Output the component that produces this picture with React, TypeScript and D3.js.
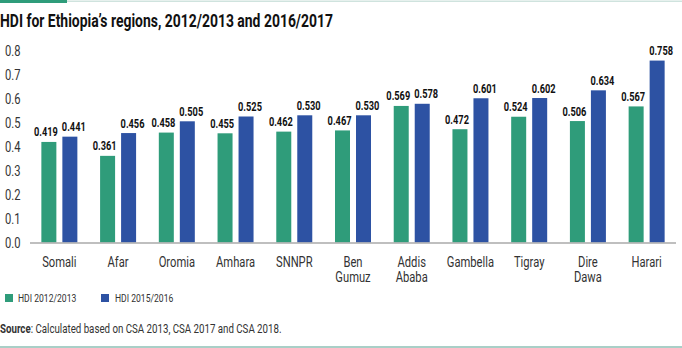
import React from "react";
import * as d3 from "d3";

const categories: string[][] = [
  ["Somali"], ["Afar"], ["Oromia"], ["Amhara"], ["SNNPR"], ["Ben", "Gumuz"],
  ["Addis", "Ababa"], ["Gambella"], ["Tigray"], ["Dire", "Dawa"], ["Harari"],
];
const hdi2013 = [0.419, 0.361, 0.458, 0.455, 0.462, 0.467, 0.569, 0.472, 0.524, 0.506, 0.567];
const hdi2016 = [0.441, 0.456, 0.505, 0.525, 0.530, 0.530, 0.578, 0.601, 0.602, 0.634, 0.758];
const seriesNames = ["HDI 2012/2013", "HDI 2015/2016"];
const yTicks = [0, 0.1, 0.2, 0.3, 0.4, 0.5, 0.6, 0.7, 0.8];

const GREEN = "#2f9c7a";
const BLUE = "#2d52a3";
const FONT = "Roboto, 'Liberation Sans', sans-serif";

function T(props: { x: number; y: number; size: number; sx?: number; anchor?: string; weight?: string; fill?: string; dy?: string; children: React.ReactNode }) {
  const { x, y, size, sx = 0.8, anchor = "start", weight = "normal", fill = "#333", dy, children } = props;
  return (
    <text transform={`translate(${x},${y}) scale(${sx},1)`} textAnchor={anchor} fontSize={size} fontWeight={weight} fill={fill} dy={dy}>
      {children}
    </text>
  );
}

export default function App() {
  const W = 682, H = 348;
  const x = d3.scaleBand<number>().domain(d3.range(categories.length)).range([30, 676]).paddingInner(0).paddingOuter(0);
  const y = d3.scaleLinear().domain([0, 0.8]).range([242.5, 50.5]);
  const barW = 15, gap = 6;
  const series = [hdi2013, hdi2016];
  const colors = [GREEN, BLUE];
  return (
    <svg width={W} height={H} style={{ position: "absolute", left: 0, top: 0, fontFamily: FONT }}>
      <rect x={0} y={0} width={W} height={H} fill="#fff" />
      <rect x={0} y={0.5} width={W} height={1.5} fill="#cfe3de" />
      <rect x={0} y={0} width={67} height={3} fill={GREEN} />
      <text x={0} y={26.5} fontSize={17.5} fontWeight="bold" fill="#111" textLength={333} lengthAdjust="spacingAndGlyphs">HDI for Ethiopia’s regions, 2012/2013 and 2016/2017</text>
      {yTicks.map((t) => (
        <T key={t} x={5} y={y(t)} dy="0.36em" size={14}>{t.toFixed(1)}</T>
      ))}
      {categories.map((c, i) => {
        const cx = (x(i) as number) + x.bandwidth() / 2;
        return (
          <g key={i}>
            {series.map((s, k) => {
              const bx = k === 0 ? cx - gap / 2 - barW : cx + gap / 2;
              const lx = k === 0 ? bx + barW + 1.5 : bx - 0.5;
              return (
                <g key={k}>
                  <rect x={bx} y={y(s[i])} width={barW} height={y(0) - y(s[i])} fill={colors[k]} />
                  <T x={lx} y={y(s[i]) - 5.5} anchor={k === 0 ? "end" : "start"} size={12.5} sx={0.74} weight="bold" fill="#111">{s[i].toFixed(3)}</T>
                </g>
              );
            })}
            {c.map((line, j) => (
              <T key={j} x={cx} y={267 + j * 15} anchor="middle" size={14}>{line}</T>
            ))}
          </g>
        );
      })}
      <line x1={30} x2={676} y1={y(0) + 0.5} y2={y(0) + 0.5} stroke="#aaa" strokeWidth={1.5} />
      {seriesNames.map((n, k) => (
        <g key={n}>
          <rect x={5 + k * 96} y={294} width={8} height={8} fill={colors[k]} />
          <T x={18 + k * 97} y={302} size={11} sx={0.78}>{n}</T>
        </g>
      ))}
      <T x={0} y={333} size={12} sx={0.81}>
        <tspan fontWeight="bold">Source</tspan>: Calculated based on CSA 2013, CSA 2017 and CSA 2018.
      </T>
      <rect x={0} y={346} width={W} height={2} fill="#a9cfc7" />
    </svg>
  );
}
